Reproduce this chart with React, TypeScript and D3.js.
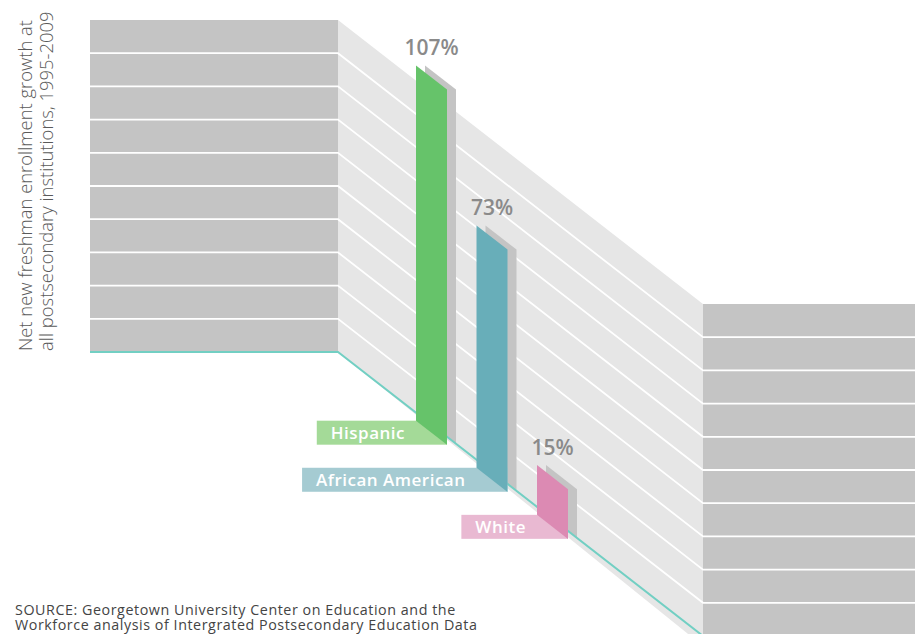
import React, { useLayoutEffect, useRef, useState } from "react";
import * as d3 from "d3";

const categories = ["Hispanic", "African American", "White"];
const values = [107, 73, 15];
const valueLabels = ["107%", "73%", "15%"];
const barColors = ["#66c36a", "#68aeb9", "#dc8ab3"];
const labelColors = ["#a4da98", "#a5cbd2", "#e9b9d2"];
const gridTicks = [0, 10, 20, 30, 40, 50, 60, 70, 80, 90, 100];
const titleLines = [
  "Net new freshman enrollment growth at",
  "all postsecondary institutions, 1995-2009",
];
const sourceLines = [
  "SOURCE: Georgetown University Center on Education and the",
  "Workforce analysis of Intergrated Postsecondary Education Data",
];

const W = 915;
const H = 634;
const FONT = "'Open Sans', 'Noto Sans', sans-serif";

export default function App() {
  const textRefs = useRef<(SVGTextElement | null)[]>([]);
  const [widths, setWidths] = useState<number[]>(categories.map((c) => c.length * 9.5));

  useLayoutEffect(() => {
    const w = textRefs.current.map((t, i) => (t ? t.getComputedTextLength() : widths[i]));
    if (w.some((v, i) => Math.abs(v - widths[i]) > 0.5)) setWidths(w);
  });

  const y = d3.scaleLinear().domain([0, 100]).range([352, 20]);
  const leftX0 = 90;
  const wallX0 = 338;
  const wallX1 = 703;
  const drop = d3.scaleLinear().domain([wallX0, wallX1]).range([0, 284]).clamp(true);
  const floorY = (x: number) => y(0) + drop(x);
  const barOffset = 8;
  const baseY = (x: number) => floorY(x) + barOffset;
  const bx = d3.scalePoint<string>().domain(categories).range([416, 537]);
  const barW = 31;
  const shadowDx = 9;

  const wallPoly = [
    [wallX0, y(100)],
    [wallX1, y(100) + drop(wallX1)],
    [wallX1, y(0) + drop(wallX1) + 10],
    [wallX0, y(0)],
  ];
  const line = d3.line();

  const gridPath = (v: number) =>
    line([
      [leftX0, y(v)],
      [wallX0, y(v)],
      [wallX1, y(v) + drop(wallX1)],
      [W, y(v) + drop(wallX1)],
    ]) as string;

  return (
    <svg
      width={W}
      height={H}
      style={{ position: "fixed", left: 0, top: 0, background: "#fff" }}
      fontFamily={FONT}
    >
      {/* panels */}
      <rect x={leftX0} y={y(100)} width={wallX0 - leftX0} height={y(0) - y(100)} fill="#c4c4c4" />
      <polygon points={wallPoly.map((p) => p.join(",")).join(" ")} fill="#e6e6e6" />
      <rect
        x={wallX1}
        y={y(100) + drop(wallX1)}
        width={W - wallX1}
        height={y(0) - y(100) + 10}
        fill="#c4c4c4"
      />
      {/* grid lines */}
      {gridTicks
        .filter((t) => t > 0 && t < 100)
        .map((t) => (
          <path key={t} d={gridPath(t)} fill="none" stroke="#fff" strokeWidth={1.8} />
        ))}
      {/* shadows */}
      {categories.map((c, i) => {
        const xl = (bx(c) as number) + shadowDx;
        const xr = xl + barW;
        const h = y(0) - y(values[i]);
        const pts = [
          [xl, baseY(xl - shadowDx) - h],
          [xr, baseY(xr - shadowDx) - h],
          [xr, floorY(xr)],
          [xl, floorY(xl)],
        ];
        return <polygon key={c} points={pts.map((p) => p.join(",")).join(" ")} fill="#c4c4c4" />;
      })}
      {/* floor line */}
      <path d={gridPath(0)} fill="none" stroke="#72cfc3" strokeWidth={2} />
      {/* labels */}
      {categories.map((c, i) => {
        const xl = bx(c) as number;
        const xr = xl + barW;
        const top = baseY(xl);
        const tw = widths[i];
        const pad = 14;
        const gap = 11;
        const lx = xl - gap - tw - pad;
        return (
          <g key={c}>
            <rect x={lx} y={top} width={xr - lx} height={24} fill={labelColors[i]} />
            <text
              ref={(el) => {
                textRefs.current[i] = el;
              }}
              x={lx + pad}
              y={top + 18}
              fill="#fff"
              fontSize={17}
              fontWeight={600}
              letterSpacing={0.5}
            >
              {c}
            </text>
          </g>
        );
      })}
      {/* bars */}
      {categories.map((c, i) => {
        const xl = bx(c) as number;
        const xr = xl + barW;
        const h = y(0) - y(values[i]);
        const pts = [
          [xl, baseY(xl) - h],
          [xr, baseY(xr) - h],
          [xr, baseY(xr)],
          [xl, baseY(xl)],
        ];
        return (
          <g key={c}>
            <polygon points={pts.map((p) => p.join(",")).join(" ")} fill={barColors[i]} />
            <text
              x={xl + barW / 2}
              y={baseY(xl) - h - 10}
              textAnchor="middle"
              fill="#8a8a8a"
              fontSize={21}
              fontWeight={600}
            >
              {valueLabels[i]}
            </text>
          </g>
        );
      })}
      {/* y title */}
      <g transform="translate(32,351) rotate(-90)">
        {titleLines.map((t, i) => (
          <text key={i} x={0} y={i * 21} fill="#5a5a5a" fontSize={18.4} fontWeight={300}>
            {t}
          </text>
        ))}
      </g>
      {/* source */}
      {sourceLines.map((t, i) => (
        <text key={i} x={15} y={614.5 + i * 15.5} fill="#444" fontSize={14.3} letterSpacing={0.55}>
          {t}
        </text>
      ))}
    </svg>
  );
}
